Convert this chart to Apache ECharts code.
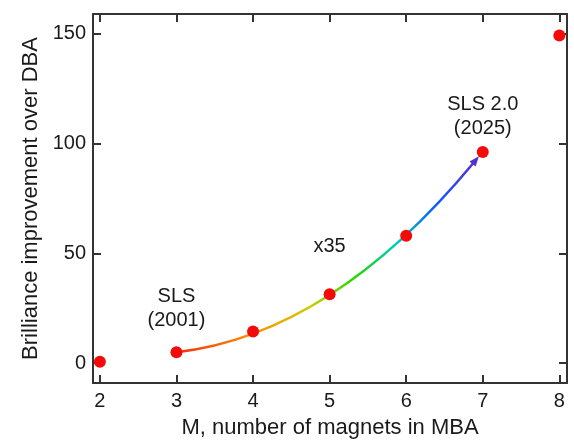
<!DOCTYPE html>
<html>
<head>
<meta charset="utf-8">
<script src="https://cdn.jsdelivr.net/npm/echarts@6/dist/echarts.min.js"></script>
<style>
  html, body { margin: 0; padding: 0; background: #fff; }
  #chart { width: 574px; height: 445px; }
</style>
</head>
<body>
<div id="chart"></div>
<script>
// magnets per MBA and brilliance gain over DBA
var magnets = [2, 3, 4, 5, 6, 7, 8]
var brilliance = [0.7, 5, 14.4, 31.4, 58, 96.2, 149.2]

// rainbow trend arrow: start (SLS), a point it passes through, tip (just short of SLS 2.0)
var trendX = [3, 5, 6.95]
var trendY = [5, 31.4, 94.2]

var xTicks = [2, 3, 4, 5, 6, 7, 8]
var yTicks = [0, 50, 100, 150]

var noteText = ['SLS\n(2001)', 'x35', 'SLS 2.0\n(2025)']
var noteX = [3, 5, 7]
var noteY = [25, 53, 112.4]

var FONT = 'Liberation Sans'
var INK = '#1a1a1a'
var FRAME = '#333'
var ARROW = '#5530d0'

var chart = echarts.init(document.getElementById('chart'))

function tickStyle(values) {
  return { show: true, inside: true, length: 8, customValues: values, lineStyle: { color: FRAME, width: 2 } }
}

function mainAxis(extra) {
  return Object.assign({
    type: 'value',
    axisLine: { show: true, onZero: false, lineStyle: { color: FRAME, width: 2 } },
    splitLine: { show: false }
  }, extra)
}

// quadratic curve through the three trend points, with an arrow head at the end
function renderTrend(params, api) {
  var p0 = api.coord([api.value(0), api.value(1)])
  var pm = api.coord([api.value(2), api.value(3)])
  var p2 = api.coord([api.value(4), api.value(5)])
  var cx = 2 * pm[0] - (p0[0] + p2[0]) / 2
  var cy = 2 * pm[1] - (p0[1] + p2[1]) / 2
  var dx = p2[0] - cx, dy = p2[1] - cy
  var len = Math.sqrt(dx * dx + dy * dy)
  var ux = dx / len, uy = dy / len
  var headL = 10, headW = 4
  var bx = p2[0] - ux * headL, by = p2[1] - uy * headL
  var gradient = new echarts.graphic.LinearGradient(0, 0, 1, 0, [
    { offset: 0, color: '#f02a10' },
    { offset: 0.25, color: '#ff8c00' },
    { offset: 0.45, color: '#d4c800' },
    { offset: 0.6, color: '#22d800' },
    { offset: 0.74, color: '#00c8c8' },
    { offset: 0.86, color: '#0a5cff' },
    { offset: 1, color: ARROW }
  ])
  return {
    type: 'group',
    children: [
      {
        type: 'bezierCurve',
        shape: { x1: p0[0], y1: p0[1], x2: bx + ux * 2, y2: by + uy * 2, cpx1: cx, cpy1: cy },
        style: { stroke: gradient, lineWidth: 2.5, fill: null }
      },
      {
        type: 'polygon',
        shape: {
          points: [
            [p2[0], p2[1]],
            [bx - uy * headW, by + ux * headW],
            [bx + uy * headW, by - ux * headW]
          ]
        },
        style: { fill: ARROW }
      }
    ]
  }
}

var option = {
  animation: false,
  textStyle: { fontFamily: FONT },
  grid: { left: 93, right: 7, top: 14, bottom: 62 },
  xAxis: [
    mainAxis({
      min: 1.91, max: 8.1,
      name: 'M, number of magnets in MBA',
      nameLocation: 'middle', nameGap: 34,
      nameTextStyle: { fontFamily: FONT, fontSize: 22, color: INK },
      axisTick: tickStyle(xTicks),
      axisLabel: { customValues: xTicks, fontFamily: FONT, fontSize: 20, color: INK, margin: 8 }
    }),
    mainAxis({
      position: 'top', min: 1.91, max: 8.1,
      axisTick: tickStyle(xTicks),
      axisLabel: { show: false }
    })
  ],
  yAxis: [
    mainAxis({
      min: -9, max: 159,
      name: 'Brilliance improvement over DBA',
      nameLocation: 'middle', nameGap: 44,
      nameTextStyle: { fontFamily: FONT, fontSize: 22, color: INK },
      axisTick: tickStyle(yTicks),
      axisLabel: { customValues: yTicks, fontFamily: FONT, fontSize: 20, color: INK, margin: 7 }
    }),
    mainAxis({
      position: 'right', min: -9, max: 159,
      axisTick: tickStyle(yTicks),
      axisLabel: { show: false }
    })
  ],
  series: [
    {
      type: 'custom',
      silent: true,
      z: 2,
      renderItem: renderTrend,
      data: [[trendX[0], trendY[0], trendX[1], trendY[1], trendX[2], trendY[2]]]
    },
    {
      type: 'scatter',
      data: magnets.map(function (m, i) { return [m, brilliance[i]] }),
      symbolSize: 12,
      z: 3,
      itemStyle: { color: '#f50a0a', opacity: 1 }
    },
    {
      type: 'scatter',
      silent: true,
      symbolSize: 1,
      itemStyle: { color: 'rgba(0,0,0,0)', opacity: 1 },
      data: noteText.map(function (t, i) { return { value: [noteX[i], noteY[i]], name: t } }),
      label: {
        show: true,
        position: 'inside',
        formatter: function (p) { return p.name },
        fontFamily: FONT,
        fontSize: 20,
        lineHeight: 24,
        color: INK,
        align: 'center'
      }
    }
  ]
}

chart.setOption(option)
</script>
</body>
</html>
